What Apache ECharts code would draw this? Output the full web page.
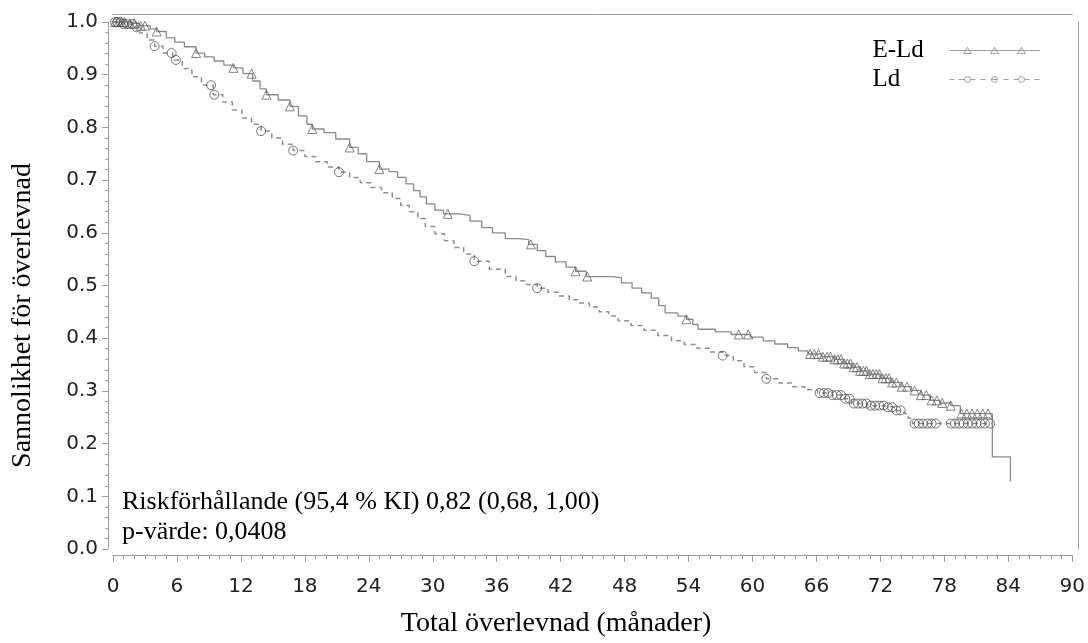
<!DOCTYPE html>
<html>
<head>
<meta charset="utf-8">
<script src="https://cdn.jsdelivr.net/npm/echarts@6/dist/echarts.min.js"></script>
<style>
  html, body { margin: 0; padding: 0; background: #fff; }
  #main { width: 1088px; height: 643px; }
</style>
</head>
<body>
<div id="main"></div>
<script>
// Kaplan-Meier, E-Ld (heldragen linje)
var eldTime = [0, 1.5, 2.5, 3.5, 4.1, 5.0, 5.8, 6.7, 7.8, 8.6, 9.5, 10.4, 11.3, 12.2, 13.1, 13.8, 14.4, 15.5, 16.6, 17.4,
  18.2, 18.7, 19.8, 20.9, 22.2, 23.0, 23.8, 25.0, 25.9, 26.7, 27.5, 28.2, 28.8, 29.4, 30.2, 31.0, 32.5, 33.5, 34.6, 35.6,
  36.8, 38.1, 39.0, 39.8, 40.6, 41.5, 42.5, 43.4, 44.4, 46.8, 47.7, 48.7, 49.6, 50.5, 51.2, 51.8, 53.0, 53.8, 54.4, 54.9,
  56.5, 58.0, 59.8, 61.0, 62.1, 63.3, 64.3, 65.2, 66.5, 67.7, 68.5, 69.3, 70.1, 70.8, 72.0, 73.0, 74.0, 74.9, 75.8, 76.7,
  77.6, 78.6, 79.5, 82.5, 84.2];
var eldSurv = [1.0, 0.997, 0.993, 0.987, 0.982, 0.970, 0.962, 0.953, 0.941, 0.934, 0.926, 0.918, 0.913, 0.902, 0.888, 0.873, 0.862, 0.852, 0.840, 0.822,
  0.806, 0.797, 0.790, 0.778, 0.762, 0.750, 0.735, 0.721, 0.716, 0.705, 0.693, 0.680, 0.668, 0.655, 0.643, 0.636, 0.633, 0.622, 0.610, 0.600,
  0.589, 0.587, 0.578, 0.566, 0.555, 0.545, 0.535, 0.527, 0.517, 0.515, 0.505, 0.495, 0.486, 0.476, 0.462, 0.448, 0.442, 0.436, 0.426, 0.417,
  0.412, 0.407, 0.402, 0.395, 0.389, 0.382, 0.376, 0.370, 0.365, 0.360, 0.352, 0.345, 0.338, 0.332, 0.324, 0.316, 0.308, 0.301, 0.292, 0.282,
  0.277, 0.272, 0.257, 0.175, 0.128];

// Kaplan-Meier, Ld (streckad linje)
var ldTime = [0, 1.0, 2.0, 2.5, 3.2, 3.9, 4.7, 5.6, 6.5, 7.4, 8.3, 9.4, 10.3, 11.2, 12.1, 13.0, 13.9, 14.9, 15.9, 16.9,
  18.0, 19.0, 20.1, 21.2, 22.2, 23.2, 24.2, 25.2, 26.2, 27.0, 27.8, 28.6, 29.3, 30.2, 31.1, 32.0, 32.9, 33.9, 35.3, 36.8,
  37.8, 38.8, 39.8, 40.8, 41.8, 42.8, 43.7, 44.7, 45.6, 46.5, 47.4, 48.6, 49.8, 51.1, 52.4, 53.6, 54.8, 56.0, 57.2, 58.2,
  59.2, 60.2, 61.3, 62.5, 63.7, 64.9, 66.1, 67.5, 68.5, 69.3, 70.8, 72.4, 73.3, 74.2, 74.6, 75.0, 82.6];
var ldSurv = [1.0, 0.996, 0.990, 0.979, 0.966, 0.954, 0.941, 0.928, 0.912, 0.896, 0.880, 0.862, 0.848, 0.833, 0.818, 0.806, 0.793, 0.780, 0.768, 0.756,
  0.745, 0.735, 0.725, 0.715, 0.705, 0.695, 0.686, 0.676, 0.665, 0.652, 0.640, 0.627, 0.612, 0.598, 0.585, 0.572, 0.560, 0.546, 0.531, 0.517,
  0.509, 0.502, 0.495, 0.487, 0.480, 0.473, 0.467, 0.459, 0.450, 0.442, 0.433, 0.424, 0.415, 0.405, 0.395, 0.388, 0.381, 0.374, 0.367, 0.357,
  0.346, 0.335, 0.323, 0.315, 0.308, 0.302, 0.296, 0.292, 0.285, 0.276, 0.272, 0.269, 0.263, 0.257, 0.248, 0.238, 0.238];

// censurerade observationer (månader)
var eldCensor = [0.2, 0.5, 0.8, 1.1, 1.6, 2.0, 2.6, 3.0, 4.1, 7.8, 11.3, 13.0, 14.4, 16.6, 18.7, 22.2, 25.0, 31.4, 39.2, 43.4,
  44.5, 53.8, 58.7, 59.6, 65.4, 65.8, 66.2, 66.6, 67.0, 67.3, 67.7, 68.0, 68.3, 68.6, 68.9, 69.2, 69.5, 69.8, 70.1, 70.4,
  70.7, 71.0, 71.3, 71.6, 71.9, 72.2, 72.5, 72.8, 73.1, 73.5, 74.0, 74.5, 75.2, 75.8, 76.3, 76.8, 77.3, 77.8, 78.6, 79.6,
  80.1, 80.6, 81.1, 81.6, 82.1];
var ldCensor = [0.2, 0.4, 0.7, 1.0, 1.3, 1.8, 2.2, 3.9, 5.5, 5.9, 9.2, 9.5, 13.9, 16.9, 21.2, 33.9, 39.8, 57.2, 61.3, 66.3,
  66.7, 67.1, 67.5, 67.9, 68.3, 68.7, 69.1, 69.5, 69.9, 70.3, 70.7, 71.1, 71.5, 71.9, 72.3, 72.7, 73.1, 73.5, 73.9, 75.2,
  75.6, 76.0, 76.4, 76.8, 77.2, 78.6, 79.0, 79.4, 79.8, 80.2, 80.6, 81.0, 81.4, 81.8, 82.3];

var xMax = 90;
var xStep = 6;
var yStep = 0.1;

var riskText = 'Riskförhållande (95,4 % KI) 0,82 (0,68, 1,00)';
var pText = 'p-värde: 0,0408';

function pairs(t, s) {
  return t.map(function (v, i) { return [v, s[i]]; });
}
// överlevnad vid tid x enligt trappstegsfunktionen
function survAt(t, s, x) {
  var v = s[0];
  for (var i = 0; i < t.length; i++) {
    if (t[i] <= x) v = s[i];
  }
  return v;
}
function censorPoints(c, t, s) {
  return c.map(function (x) { return [x, survAt(t, s, x)]; });
}

var serif = 'Liberation Serif';
var sans = 'DejaVu Sans';
var frameColor = '#a0a0a0';

// legendikoner: linje med tre symboler
var eldIcon = 'path://M0,5 L90,5 M14,8 L18,2 L22,8 Z M41,8 L45,2 L49,8 Z M68,8 L72,2 L76,8 Z';
var ldIcon = 'path://M0,5 L5,5 M9,5 L15,5 M21,5 L26,5 M31,5 L36,5 M42,5 L48,5 M54,5 L59,5 M64,5 L69,5 M75,5 L80,5 M85,5 L90,5' +
  ' M21,5 A3,3 0 1,1 15,5 A3,3 0 1,1 21,5 Z M48,5 A3,3 0 1,1 42,5 A3,3 0 1,1 48,5 Z M75,5 A3,3 0 1,1 69,5 A3,3 0 1,1 75,5 Z';

option = {
  animation: false,
  backgroundColor: '#fff',
  grid: { left: 113, right: 13, top: 22, bottom: 90 },
  legend: {
    orient: 'vertical',
    right: 43,
    top: 33,
    align: 'right',
    itemWidth: 90,
    itemHeight: 6,
    itemGap: 4,
    data: [
      { name: 'E-Ld', icon: eldIcon, itemStyle: { color: 'rgba(255,255,255,0)', borderColor: '#888', borderWidth: 1 } },
      { name: 'Ld', icon: ldIcon, itemStyle: { color: 'rgba(255,255,255,0)', borderColor: '#888', borderWidth: 1 } }
    ],
    formatter: function (name) { return '{t|' + name + '}'; },
    textStyle: {
      fontFamily: serif, fontSize: 25, color: '#000',
      rich: { t: { width: 72, align: 'left', fontFamily: serif, fontSize: 25, color: '#000' } }
    }
  },
  xAxis: [
    {
      type: 'value',
      min: 0, max: xMax, interval: xStep,
      offset: 6,
      name: 'Total överlevnad (månader)',
      nameLocation: 'middle',
      nameGap: 55,
      nameTextStyle: { fontFamily: serif, fontSize: 28, color: '#000', padding: [0, 73, 0, 0] },
      axisLine: { show: true, onZero: false, lineStyle: { color: frameColor, width: 1 } },
      axisTick: { show: true, length: 7, lineStyle: { color: frameColor } },
      minorTick: { show: true, splitNumber: 6, length: 4, lineStyle: { color: frameColor } },
      axisLabel: { fontFamily: sans, fontSize: 20, color: '#222', margin: 22 },
      splitLine: { show: false }
    },
    {
      type: 'value', position: 'top', min: 0, max: xMax, offset: 8,
      axisLine: { show: true, onZero: false, lineStyle: { color: frameColor, width: 1 } },
      axisTick: { show: false }, axisLabel: { show: false }, splitLine: { show: false }
    }
  ],
  yAxis: [
    {
      type: 'value',
      min: 0, max: 1, interval: yStep,
      offset: 5,
      name: 'Sannolikhet för överlevnad',
      nameLocation: 'middle',
      nameGap: 71,
      nameTextStyle: { fontFamily: serif, fontSize: 28, color: '#000', padding: [0, 60, 0, 0] },
      axisLine: { show: true, onZero: false, lineStyle: { color: frameColor, width: 1 } },
      axisTick: { show: true, length: 6, lineStyle: { color: frameColor } },
      minorTick: { show: true, splitNumber: 5, length: 3, lineStyle: { color: frameColor } },
      axisLabel: {
        fontFamily: sans, fontSize: 20, color: '#222', margin: 10,
        formatter: function (v) { return v.toFixed(1); }
      },
      splitLine: { show: false }
    },
    {
      type: 'value', position: 'right', min: 0, max: 1, offset: 6,
      axisLine: { show: true, onZero: false, lineStyle: { color: frameColor, width: 1 } },
      axisTick: { show: false }, axisLabel: { show: false }, splitLine: { show: false }
    }
  ],
  graphic: [
    { type: 'text', left: 122, top: 489, style: { text: riskText, fontFamily: serif, fontSize: 26, fill: '#000' } },
    { type: 'text', left: 122, top: 519, style: { text: pText, fontFamily: serif, fontSize: 26, fill: '#000' } }
  ],
  series: [
    {
      name: 'E-Ld',
      type: 'scatter',
      data: censorPoints(eldCensor, eldTime, eldSurv),
      symbol: 'triangle',
      symbolSize: 9,
      itemStyle: { color: 'rgba(255,255,255,0)', borderColor: '#666', borderWidth: 1 },
      z: 3
    },
    {
      name: 'Ld',
      type: 'scatter',
      data: censorPoints(ldCensor, ldTime, ldSurv),
      symbol: 'circle',
      symbolSize: 9,
      itemStyle: { color: 'rgba(255,255,255,0)', borderColor: '#555', borderWidth: 1 },
      z: 3
    },
    {
      name: 'E-Ld',
      type: 'line',
      step: 'end',
      data: pairs(eldTime, eldSurv),
      symbol: 'none',
      lineStyle: { color: '#8a8a8a', width: 1.3 },
      z: 2
    },
    {
      name: 'Ld',
      type: 'line',
      step: 'end',
      data: pairs(ldTime, ldSurv),
      symbol: 'none',
      lineStyle: { color: '#8f8f8f', width: 1.5, type: [5, 4] },
      z: 2
    }
  ]
};

var myChart = echarts.init(document.getElementById('main'));
myChart.setOption(option);
</script>
</body>
</html>
